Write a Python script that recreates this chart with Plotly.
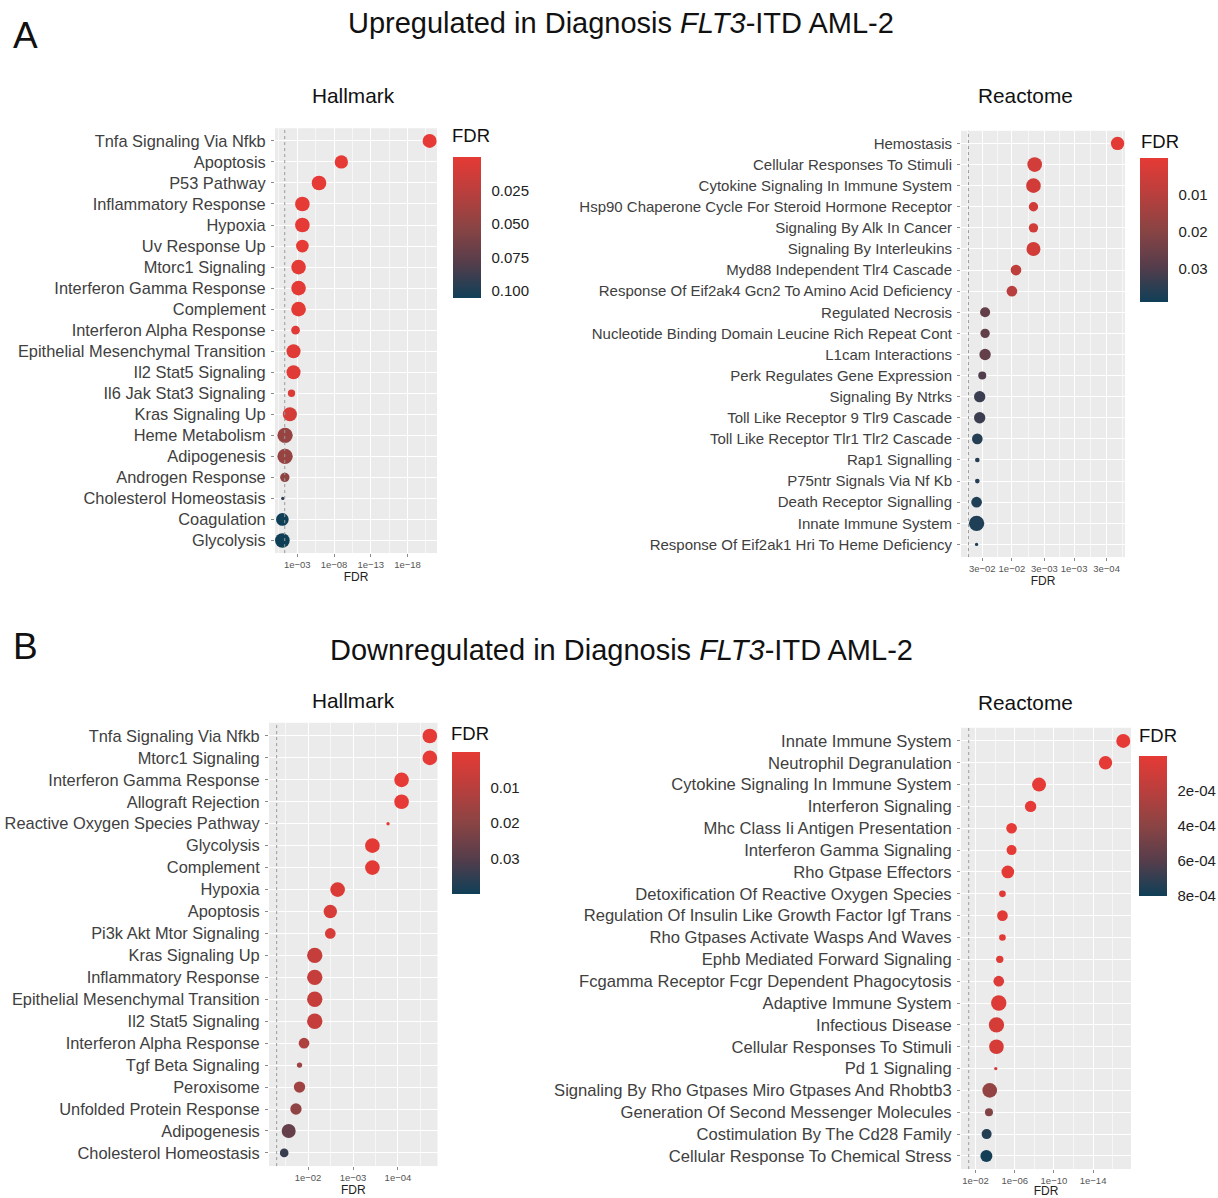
import numpy as np
import plotly.graph_objects as go

# ---------------- data ----------------
hallA_terms = ["Tnfa Signaling Via Nfkb", "Apoptosis", "P53 Pathway", "Inflammatory Response",
               "Hypoxia", "Uv Response Up", "Mtorc1 Signaling", "Interferon Gamma Response",
               "Complement", "Interferon Alpha Response", "Epithelial Mesenchymal Transition",
               "Il2 Stat5 Signaling", "Il6 Jak Stat3 Signaling", "Kras Signaling Up",
               "Heme Metabolism", "Adipogenesis", "Androgen Response", "Cholesterol Homeostasis",
               "Coagulation", "Glycolysis"]
hallA_fdr = [1.0e-21, 1.0e-9, 1.1e-6, 2.0e-4, 2.0e-4, 2.0e-4, 6.6e-4, 6.6e-4, 6.6e-4, 1.7e-3,
             3.2e-3, 3.2e-3, 6.0e-3, 1.0e-2, 0.045, 0.045, 0.049, 0.093, 0.105, 0.105]
hallA_size = [42, 40, 44, 44, 44, 38, 44, 44, 44, 26, 42, 42, 22, 42, 46, 46, 28, 10, 38, 44]

reactA_terms = ["Hemostasis", "Cellular Responses To Stimuli", "Cytokine Signaling In Immune System",
                "Hsp90 Chaperone Cycle For Steroid Hormone Receptor", "Signaling By Alk In Cancer",
                "Signaling By Interleukins", "Myd88 Independent Tlr4 Cascade",
                "Response Of Eif2ak4 Gcn2 To Amino Acid Deficiency", "Regulated Necrosis",
                "Nucleotide Binding Domain Leucine Rich Repeat Cont", "L1cam Interactions",
                "Perk Regulates Gene Expression", "Signaling By Ntrks", "Toll Like Receptor 9 Tlr9 Cascade",
                "Toll Like Receptor Tlr1 Tlr2 Cascade", "Rap1 Signalling", "P75ntr Signals Via Nf Kb",
                "Death Receptor Signalling", "Innate Immune System",
                "Response Of Eif2ak1 Hri To Heme Deficiency"]
reactA_fdr = [2.0e-4, 4.3e-3, 4.5e-3, 4.5e-3, 4.5e-3, 4.5e-3, 8.6e-3, 1.0e-2, 0.027, 0.027,
              0.027, 0.030, 0.033, 0.033, 0.036, 0.036, 0.036, 0.037, 0.037, 0.037]
reactA_size = [40, 44, 44, 28, 28, 42, 32, 32, 30, 28, 34, 24, 34, 34, 32, 14, 14, 32, 46, 10]

hallB_terms = ["Tnfa Signaling Via Nfkb", "Mtorc1 Signaling", "Interferon Gamma Response",
               "Allograft Rejection", "Reactive Oxygen Species Pathway", "Glycolysis", "Complement",
               "Hypoxia", "Apoptosis", "Pi3k Akt Mtor Signaling", "Kras Signaling Up",
               "Inflammatory Response", "Epithelial Mesenchymal Transition", "Il2 Stat5 Signaling",
               "Interferon Alpha Response", "Tgf Beta Signaling", "Peroxisome",
               "Unfolded Protein Response", "Adipogenesis", "Cholesterol Homeostasis"]
hallB_fdr = [1.95e-5, 1.95e-5, 8.3e-5, 8.3e-5, 1.66e-4, 3.7e-4, 3.7e-4, 2.2e-3, 3.2e-3, 3.2e-3,
             7.1e-3, 7.1e-3, 7.1e-3, 7.1e-3, 0.0123, 0.0155, 0.0155, 0.0186, 0.027, 0.034]
hallB_size = [44, 44, 44, 44, 10, 44, 44, 44, 40, 32, 46, 46, 46, 46, 32, 16, 34, 34, 42, 26]

reactB_terms = ["Innate Immune System", "Neutrophil Degranulation", "Cytokine Signaling In Immune System",
                "Interferon Signaling", "Mhc Class Ii Antigen Presentation", "Interferon Gamma Signaling",
                "Rho Gtpase Effectors", "Detoxification Of Reactive Oxygen Species",
                "Regulation Of Insulin Like Growth Factor Igf Trans", "Rho Gtpases Activate Wasps And Waves",
                "Ephb Mediated Forward Signaling", "Fcgamma Receptor Fcgr Dependent Phagocytosis",
                "Adaptive Immune System", "Infectious Disease", "Cellular Responses To Stimuli",
                "Pd 1 Signaling", "Signaling By Rho Gtpases Miro Gtpases And Rhobtb3",
                "Generation Of Second Messenger Molecules", "Costimulation By The Cd28 Family",
                "Cellular Response To Chemical Stress"]
reactB_fdr = [8.3e-18, 5.4e-16, 3.3e-9, 2.4e-8, 2.1e-6, 2.1e-6, 5.1e-6, 1.8e-5, 1.8e-5, 1.8e-5,
              3.4e-5, 4.3e-5, 4.3e-5, 7.4e-5, 7.4e-5, 8.7e-5, 3.6e-4, 4.3e-4, 7.4e-4, 7.9e-4]
reactB_size = [42, 40, 42, 34, 32, 30, 38, 20, 32, 20, 22, 32, 46, 46, 44, 10, 44, 24, 30, 36]

hallA_xticks = [1e-3, 1e-8, 1e-13, 1e-18]
reactA_xticks = [3e-2, 1e-2, 3e-3, 1e-3, 3e-4]
hallB_xticks = [1e-2, 1e-3, 1e-4]
reactB_xticks = [1e-2, 1e-6, 1e-10, 1e-14]

hallA_cbticks = [0.025, 0.05, 0.075, 0.1]
reactA_cbticks = [0.01, 0.02, 0.03]
hallB_cbticks = [0.01, 0.02, 0.03]
reactB_cbticks = [2e-4, 4e-4, 6e-4, 8e-4]

FDR_CUTOFF = 0.05

# ---------------- layout helpers ----------------
W, H = 1218, 1198


def fx(x):
    return x / W


def fy(y):
    return 1 - y / H


# colour runs from high FDR (navy) to low FDR (red); the colour variable is -FDR so
# that the colour bar shows small FDR at its top, as in the original
COLORSCALE = [[0.0, '#0f3f57'], [0.25, '#563d4b'], [0.5, '#8a4444'],
              [0.75, '#b93f3d'], [1.0, '#e53a35']]


def tick_text(v):
    m, e = f"{v:.0e}".split("e")
    return f"{m}e\u2212{abs(int(e)):02d}"


def minor_vals(major):
    lg = np.log10(major)
    mids = list((lg[:-1] + lg[1:]) / 2)
    step0 = lg[1] - lg[0]
    step1 = lg[-1] - lg[-2]
    mids = [lg[0] - step0 / 2] + mids + [lg[-1] + step1 / 2]
    return [10 ** m for m in mids]


panels = [
    dict(terms=hallA_terms, fdr=hallA_fdr, size=hallA_size, xt=hallA_xticks, lab=16.4,
         dx=(275, 437), dy=(128.5, 554), cmax=0.105,
         cb=(452.7, 157, 141), cbt=hallA_cbticks, cbtext=["0.025", "0.050", "0.075", "0.100"],
         cbtitle=(471, 136)),
    dict(terms=reactA_terms, fdr=reactA_fdr, size=reactA_size, xt=reactA_xticks, lab=15.0,
         dx=(961, 1125), dy=(131, 558), cmax=0.039,
         cb=(1140, 158, 144), cbt=reactA_cbticks, cbtext=["0.01", "0.02", "0.03"],
         cbtitle=(1160, 142)),
    dict(terms=hallB_terms, fdr=hallB_fdr, size=hallB_size, xt=hallB_xticks, lab=16.4,
         dx=(269, 437.5), dy=(724, 1168), cmax=0.0398,
         cb=(452, 753, 142), cbt=hallB_cbticks, cbtext=["0.01", "0.02", "0.03"],
         cbtitle=(470, 735)),
    dict(terms=reactB_terms, fdr=reactB_fdr, size=reactB_size, xt=reactB_xticks, lab=16.6,
         dx=(961, 1131), dy=(729, 1171), cmax=8.0e-4,
         cb=(1139, 757, 140), cbt=reactB_cbticks, cbtext=["2e-04", "4e-04", "6e-04", "8e-04"],
         cbtitle=(1158, 737)),
]

fig = go.Figure()
layout = dict(width=W, height=H, margin=dict(l=0, r=0, t=0, b=0),
              paper_bgcolor='white', plot_bgcolor='#EBEBEB', showlegend=False,
              font=dict(family='Liberation Sans, Arial, sans-serif', color='#222'))
annotations = []
shapes = []

for i, p in enumerate(panels, start=1):
    sfx = '' if i == 1 else str(i)
    xa, ya = 'x' + sfx, 'y' + sfx
    ca = 'coloraxis' + sfx
    fdr = np.array(p['fdr'])
    n = len(p['terms'])

    fig.add_trace(go.Scatter(
        x=fdr, y=p['terms'], mode='markers', xaxis=xa, yaxis=ya,
        marker=dict(color=-fdr, coloraxis=ca, size=np.array(p['size']) / 3.0,
                    line=dict(width=0), opacity=1),
        customdata=fdr,
        hovertemplate='%{y}<br>FDR=%{customdata:.2e}<extra></extra>'))

    # x range: reversed log scale including the cut-off line, 5% expansion (ggplot style)
    lg = np.log10(np.append(fdr, FDR_CUTOFF))
    lo, hi = lg.max(), lg.min()
    pad = 0.05 * (lo - hi)
    xr = [lo + pad, hi - pad]

    layout['xaxis' + sfx] = dict(
        type='log', range=xr, domain=[fx(p['dx'][0]), fx(p['dx'][1])], anchor=ya,
        tickvals=p['xt'], ticktext=[tick_text(v) for v in p['xt']], tickangle=0,
        tickfont=dict(size=9.5, color='#555555'), ticks='outside', ticklen=3,
        tickcolor='#8a8a8a', tickwidth=1, showgrid=True, gridcolor='white', gridwidth=1.1,
        minor=dict(tickvals=minor_vals(p['xt']), showgrid=True, gridcolor='#f7f7f7',
                   gridwidth=0.6, ticks=''),
        showline=False, zeroline=False,
        title=dict(text='FDR', font=dict(size=12, color='#222'), standoff=3))
    layout['yaxis' + sfx] = dict(
        type='category', categoryorder='array', categoryarray=p['terms'],
        range=[n - 1 + 0.6, -0.6], domain=[fy(p['dy'][1]), fy(p['dy'][0])], anchor=xa,
        tickfont=dict(size=p['lab'], color='#404040'), ticks='outside', ticklen=3,
        tickcolor='#8a8a8a', tickwidth=1, showgrid=True, gridcolor='white', gridwidth=1.1,
        ticklabelstandoff=2, showline=False, zeroline=False)

    cbx, cby, cblen = p['cb']
    layout[ca] = dict(
        cmin=-p['cmax'], cmax=0, colorscale=COLORSCALE,
        colorbar=dict(x=fx(cbx), xanchor='left', y=fy(cby), yanchor='top',
                      lenmode='pixels', len=cblen, thicknessmode='pixels', thickness=28,
                      outlinewidth=0, xpad=0, ypad=0,
                      tickvals=[-v for v in p['cbt']], ticktext=p['cbtext'],
                      ticks='outside', ticklen=8, tickcolor='rgba(0,0,0,0)',
                      tickfont=dict(size=15, color='#222')))

    shapes.append(dict(type='line', xref=xa, yref=ya + ' domain', x0=FDR_CUTOFF, x1=FDR_CUTOFF,
                       y0=0, y1=1, line=dict(color='#9a9a9a', width=1, dash='dot'), layer='above'))

    tx, ty = p['cbtitle']
    annotations.append(dict(text='FDR', x=fx(tx), y=fy(ty), xref='paper', yref='paper',
                            showarrow=False, xanchor='center', yanchor='middle',
                            font=dict(size=18.5, color='#111')))

# titles
big = [("Upregulated in Diagnosis <i>FLT3</i>-ITD AML-2", 621, 23),
       ("Downregulated in Diagnosis <i>FLT3</i>-ITD AML-2", 621, 651)]
for t, x, y in big:
    annotations.append(dict(text=t, x=fx(x), y=fy(y), xref='paper', yref='paper', showarrow=False,
                            xanchor='center', yanchor='middle', font=dict(size=29, color='#111')))
for t, x, y in [("A", 25, 36), ("B", 25, 648)]:
    annotations.append(dict(text=t, x=fx(x), y=fy(y), xref='paper', yref='paper', showarrow=False,
                            xanchor='center', yanchor='middle', font=dict(size=37, color='#111')))
for t, x, y in [("Hallmark", 353, 96), ("Reactome", 1025, 96),
                ("Hallmark", 353, 702), ("Reactome", 1025, 704)]:
    annotations.append(dict(text=t, x=fx(x), y=fy(y), xref='paper', yref='paper', showarrow=False,
                            xanchor='center', yanchor='middle', font=dict(size=20.8, color='#111')))

layout['annotations'] = annotations
layout['shapes'] = shapes
fig.update_layout(**layout)
fig.write_html("out.html")
